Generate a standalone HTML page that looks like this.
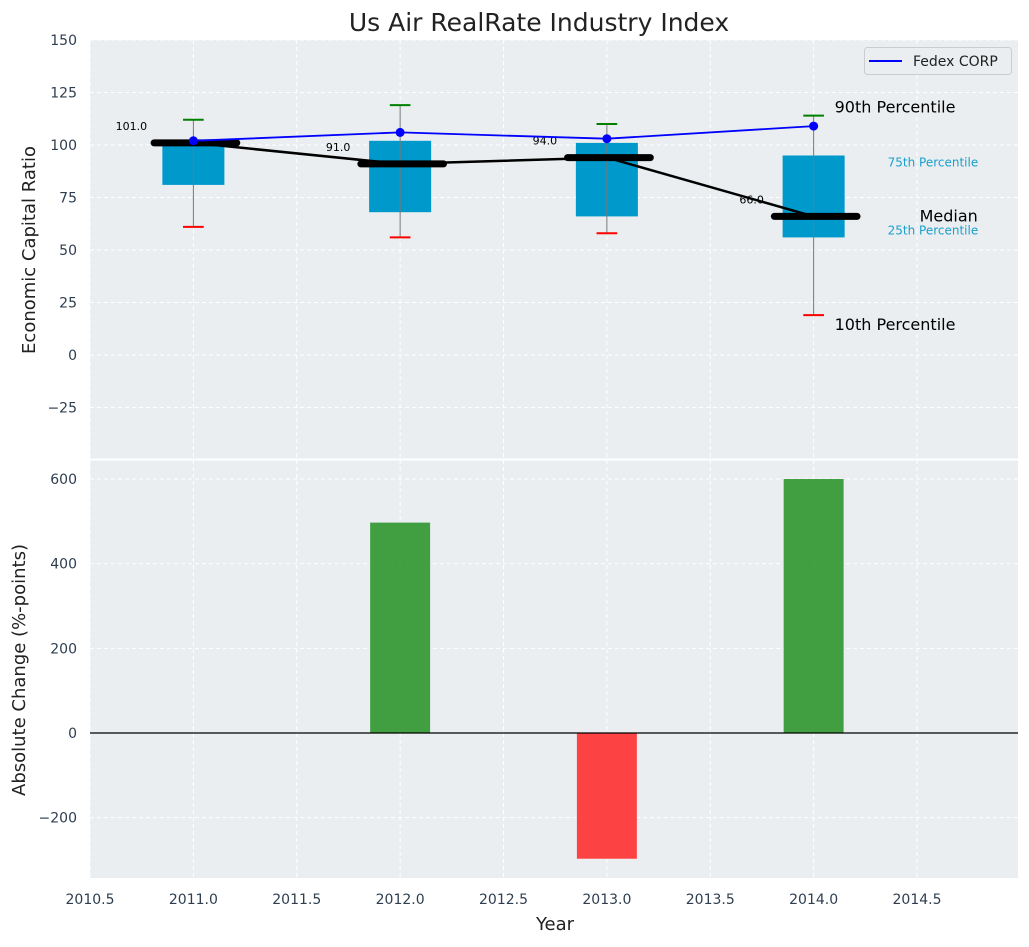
<!DOCTYPE html>
<html><head><meta charset="utf-8"><style>
body{margin:0;background:#fff;}
svg{font-family:"DejaVu Sans","Liberation Sans",sans-serif;}
</style></head><body>
<svg id="c" width="1029" height="942"></svg>
<script>
const years=[2011,2012,2013,2014];
const p10=[61,56,58,19];
const p25=[81,68,66,56];
const median=[101,91,94,66];
const p75=[102,102,101,95];
const p90=[112,119,110,114];
const fedex=[102,106,103,109];
const change=[0,497,-297,600];
const topTicks=[-25,0,25,50,75,100,125,150];
const botTicks=[-200,0,200,400,600];
const xTicks=[2010.5,2011,2011.5,2012,2012.5,2013,2013.5,2014,2014.5];

const NS="http://www.w3.org/2000/svg";
const svg=document.getElementById('c');
function el(t,a,txt){const e=document.createElementNS(NS,t);for(const k in a)e.setAttribute(k,a[k]);if(txt!==undefined)e.textContent=txt;svg.appendChild(e);return e;}
const L=90,R=1018;
const x=v=>L+(v-2010.5)*206.75;
const yT=v=>40+(150-v)*(420/200);
const yB=v=>733-v*(254/600);

let e=el('rect',{x:L,y:40,width:R-L,height:420,fill:'#eaeef0'});

e=el('rect',{x:L,y:460,width:R-L,height:418,fill:'#eaeef0'});

el('line',{x1:L,x2:R,y1:459.5,y2:459.5,stroke:'#fff','stroke-width':2});
xTicks.forEach(t=>{el('line',{x1:x(t),x2:x(t),y1:40,y2:878,stroke:'#fff','stroke-dasharray':'4,3','stroke-width':1});});
topTicks.forEach(t=>{el('line',{x1:L,x2:R,y1:yT(t),y2:yT(t),stroke:'#fff','stroke-dasharray':'4,3'});
 const l=el('text',{x:L-13,y:yT(t)+5,'text-anchor':'end','font-size':14,fill:'#2e3e50'},String(t).replace('-','\u2212'));
 });
botTicks.forEach(t=>{el('line',{x1:L,x2:R,y1:yB(t),y2:yB(t),stroke:'#fff','stroke-dasharray':'4,3'});
 const l=el('text',{x:L-13,y:yB(t)+5,'text-anchor':'end','font-size':14,fill:'#2e3e50'},String(t).replace('-','\u2212'));
 });
xTicks.forEach(t=>{const l=el('text',{x:x(t),y:904,'text-anchor':'middle','font-size':14,fill:'#2e3e50'},t.toFixed(1));
 });

years.forEach((yr,i)=>{
 const b=el('rect',{x:x(yr-0.15),y:yT(p75[i]),width:0.3*206.75,height:yT(p25[i])-yT(p75[i]),fill:'#0099cc'});
 
 el('line',{x1:x(yr),x2:x(yr),y1:yT(p90[i]),y2:yT(p10[i]),stroke:'#777','stroke-width':1});
 el('line',{x1:x(yr-0.05),x2:x(yr+0.05),y1:yT(p90[i]),y2:yT(p90[i]),stroke:'green','stroke-width':2});
 el('line',{x1:x(yr-0.05),x2:x(yr+0.05),y1:yT(p10[i]),y2:yT(p10[i]),stroke:'red','stroke-width':2});
});
let d=years.map((yr,i)=>(i?'L':'M')+x(yr)+','+yT(median[i])).join(' ');
el('path',{d:d,stroke:'#000','stroke-width':2.5,fill:'none'});
years.forEach((yr,i)=>{
 const m=el('line',{x1:x(yr-0.19),x2:x(yr+0.21),y1:yT(median[i]),y2:yT(median[i]),stroke:'#000','stroke-width':7,'stroke-linecap':'round'});
 
 const t=el('text',{x:x(yr-0.3),y:yT(median[i])-13,'text-anchor':'middle','font-size':11,fill:'#000'},median[i].toFixed(1));
 
});
d=years.map((yr,i)=>(i?'L':'M')+x(yr)+','+yT(fedex[i])).join(' ');
e=el('path',{d:d,stroke:'blue','stroke-width':1.8,fill:'none'});

years.forEach((yr,i)=>{const c=el('circle',{cx:x(yr),cy:yT(fedex[i]),r:4.5,fill:'blue'});
 });
const last=3,xl=x(years[last]);
[['90th Percentile',xl+21,yT(p90[last])-3,16,'#000','start'],
 ['10th Percentile',xl+21,yT(p10[last])+15,16,'#000','start'],
 ['75th Percentile',xl+74,yT(p75[last])+11,12,'#1aa0cc','start'],
 ['25th Percentile',xl+74,yT(p25[last])-3,12,'#1aa0cc','start'],
 ['Median',xl+106,yT(median[last])+5,16,'#000','start']].forEach(a=>{
 const t=el('text',{x:a[1],y:a[2],'font-size':a[3],fill:a[4]},a[0]);
 });
e=el('rect',{x:864.5,y:47.5,width:147,height:27,rx:3,fill:'#eaeef0',stroke:'#ccc'});

el('line',{x1:869,x2:902,y1:61,y2:61,stroke:'blue','stroke-width':2});
e=el('text',{x:913,y:66,'font-size':14,fill:'#222'},'Fedex CORP');


years.forEach((yr,i)=>{
 const v=change[i];if(v===0)return;
 const b=el('rect',{x:x(yr-0.145),y:Math.min(yB(v),yB(0)),width:0.29*206.75,height:Math.abs(yB(v)-yB(0)),fill:v>0?'#2f962f':'#ff2a2a','fill-opacity':v>0?0.9:0.88});
 
});
el('line',{x1:L,x2:R,y1:yB(0),y2:yB(0),stroke:'#000','stroke-width':1.2});

e=el('text',{x:539,y:31,'text-anchor':'middle','font-size':25,fill:'#222'},'Us Air RealRate Industry Index');

e=el('text',{x:555,y:930,'text-anchor':'middle','font-size':18,fill:'#222'},'Year');

e=el('text',{x:0,y:0,'text-anchor':'middle','font-size':18,fill:'#222',transform:'translate(35,250) rotate(-90)'},'Economic Capital Ratio');

e=el('text',{x:0,y:0,'text-anchor':'middle','font-size':18,fill:'#222',transform:'translate(25,670) rotate(-90)'},'Absolute Change (%-points)');

</script>
</body></html>
